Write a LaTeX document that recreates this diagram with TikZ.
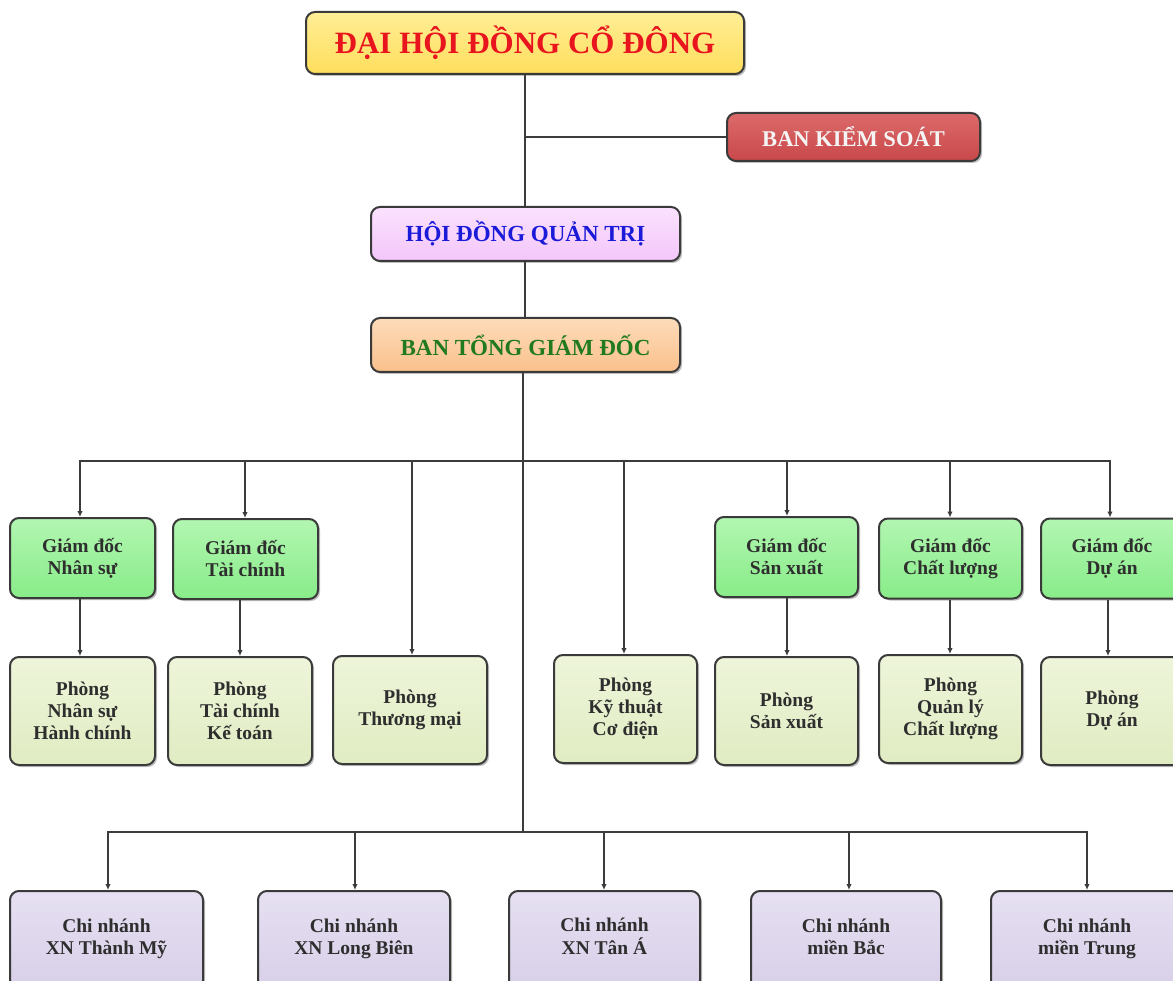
\documentclass[tikz,border=0pt]{standalone}
\usepackage{fontspec}
\setmainfont{Liberation Serif}
\usetikzlibrary{arrows.meta,shadows}
\definecolor{edgec}{HTML}{3A3A3A}
\definecolor{linec}{HTML}{3C3C3C}
\definecolor{yel}{HTML}{FFDE5C}
\definecolor{yelT}{HTML}{FFEE96}
\definecolor{redbox}{HTML}{C9484A}
\definecolor{redboxT}{HTML}{DC6A6A}
\definecolor{pinkbox}{HTML}{F3C6FA}
\definecolor{pinkboxT}{HTML}{FBE2FE}
\definecolor{orbox}{HTML}{FAC08C}
\definecolor{orboxT}{HTML}{FDDCBA}
\definecolor{gdbox}{HTML}{88EC88}
\definecolor{gdboxT}{HTML}{B2F6B2}
\definecolor{phbox}{HTML}{E0ECC2}
\definecolor{phboxT}{HTML}{EEF5DA}
\definecolor{cnbox}{HTML}{D6CDE7}
\definecolor{cnboxT}{HTML}{E6E0F2}
\definecolor{titred}{HTML}{E8141E}
\definecolor{titblue}{HTML}{1A1AD8}
\definecolor{titgreen}{HTML}{217A1E}
\definecolor{txtdark}{HTML}{2E2E2E}
\newcommand\twol[2]{\raisebox{2pt}[0pt][0pt]{\begin{tabular}{@{}c@{}}#1\\#2\end{tabular}}}
\tikzset{
  basebox/.style={draw=edgec, line width=2pt, rounded corners=9pt, inner sep=0pt,
    align=center, drop shadow={shadow xshift=2pt, shadow yshift=-2pt, opacity=0.25, fill=black}},
  topbox/.style={basebox, top color=yelT, bottom color=yel, minimum width=438pt, minimum height=62pt,
    font=\fontsize{31}{36}\selectfont\bfseries, text=titred},
  bksbox/.style={basebox, top color=redboxT, bottom color=redbox, minimum width=253pt, minimum height=48pt,
    font=\fontsize{22.5}{26}\selectfont\bfseries, text=white!92!gray},
  hdbox/.style={basebox, top color=pinkboxT, bottom color=pinkbox, minimum width=309pt, minimum height=54pt,
    font=\fontsize{23}{27}\selectfont\bfseries, text=titblue},
  tgbox/.style={basebox, top color=orboxT, bottom color=orbox, minimum width=309pt, minimum height=54pt,
    font=\fontsize{23}{27}\selectfont\bfseries, text=titgreen},
  gdnode/.style={basebox, top color=gdboxT, bottom color=gdbox, minimum width=144pt, minimum height=80pt,
    font=\fontsize{19.5}{22}\selectfont\bfseries, text=txtdark},
  phnode/.style={basebox, top color=phboxT, bottom color=phbox, minimum width=144pt, minimum height=108pt,
    font=\fontsize{19.5}{22}\selectfont\bfseries, text=txtdark},
  cnnode/.style={basebox, top color=cnboxT, bottom color=cnbox, minimum width=192pt, minimum height=110pt,
    font=\fontsize{19.5}{22}\selectfont\bfseries, text=txtdark},
  conn/.style={draw=linec, line width=2pt},
  arr/.style={conn, -{Latex[length=6pt,width=5.5pt]}}
}
\begin{document}
\begin{tikzpicture}[x=1pt,y=-1pt]
\useasboundingbox (0,0) rectangle (1173,981);
\clip (0,0) rectangle (1173,981);
\fill[white] (0,0) rectangle (1173,981);

% top level
\node[topbox] (dhd) at (525,43) {ĐẠI HỘI ĐỒNG CỔ ĐÔNG};
\node[bksbox] (bks) at (853.5,137) {BAN KIỂM SOÁT};
\node[hdbox] (hdqt) at (525.5,234) {HỘI ĐỒNG QUẢN TRỊ};
\node[tgbox] (btgd) at (525.5,345) {BAN TỔNG GIÁM ĐỐC};

% directors
\node[gdnode, minimum width=145pt] (gd1) at (82.5,558) {Giám đốc\\Nhân sự};
\node[gdnode, minimum width=145pt] (gd2) at (245.5,559) {Giám đốc\\Tài chính};
\node[gdnode, minimum width=143pt] (gd3) at (786.5,557) {Giám đốc\\Sản xuất};
\node[gdnode, minimum width=143pt] (gd4) at (950.5,558.5) {Giám đốc\\Chất lượng};
\node[gdnode, minimum width=142pt] (gd5) at (1112,558.5) {Giám đốc\\Dự án};

% departments
\node[phnode, minimum width=145pt] (p1) at (82.5,711) {Phòng\\Nhân sự\\Hành chính};
\node[phnode, minimum width=144pt] (p2) at (240,711) {Phòng\\Tài chính\\Kế toán};
\node[phnode, minimum width=154pt] (p3) at (410,710) {Phòng\\Thương mại};
\node[phnode, minimum width=143pt] (p4) at (625.5,709) {Phòng\\Kỹ thuật\\Cơ điện};
\node[phnode, minimum width=143pt] (p5) at (786.5,711) {Phòng\\Sản xuất};
\node[phnode, minimum width=143pt] (p6) at (950.5,709) {Phòng\\Quản lý\\Chất lượng};
\node[phnode, minimum width=142pt] (p7) at (1112,711) {Phòng\\Dự án};

% branches
\node[cnnode, minimum width=193pt] (c1) at (106.5,946) {\twol{Chi nhánh}{XN Thành Mỹ}};
\node[cnnode, minimum width=192pt] (c2) at (354,946) {\twol{Chi nhánh}{XN Long Biên}};
\node[cnnode, minimum width=191pt] (c3) at (604.5,946) {\twol{Chi nhánh}{XN Tân Á}};
\node[cnnode, minimum width=190pt] (c4) at (846,946) {\twol{Chi nhánh}{miền Bắc}};
\node[cnnode, minimum width=192pt] (c5) at (1087,946) {\twol{Chi nhánh}{miền Trung}};

% connector guide coordinates (integer x for crisp lines)
\coordinate (jb) at (525,137);
\coordinate (b1) at (523,461);
\coordinate (b2) at (523,832);
\coordinate (x80) at (80,0);
\coordinate (x245) at (245,0);
\coordinate (x240) at (240,0);
\coordinate (x412) at (412,0);
\coordinate (x624) at (624,0);
\coordinate (x787) at (787,0);
\coordinate (x950) at (950,0);
\coordinate (x1110) at (1110,0);
\coordinate (x1108) at (1108,0);
\coordinate (x108) at (108,0);
\coordinate (x355) at (355,0);
\coordinate (x604) at (604,0);
\coordinate (x849) at (849,0);
\coordinate (x1087) at (1087,0);

\draw[conn] (jb |- dhd.south) -- (jb |- hdqt.north);
\draw[conn] (jb) -- (bks.west);
\draw[conn] (jb |- hdqt.south) -- (jb |- btgd.north);
\draw[conn] (b1 |- btgd.south) -- (b2);

\draw[arr] (b1) -| (x80 |- gd1.north);
\draw[arr] (b1) -| (x245 |- gd2.north);
\draw[arr] (b1) -| (x412 |- p3.north);
\draw[arr] (b1) -| (x624 |- p4.north);
\draw[arr] (b1) -| (x787 |- gd3.north);
\draw[arr] (b1) -| (x950 |- gd4.north);
\draw[arr] (b1) -| (x1110 |- gd5.north);

\draw[arr] (x80 |- gd1.south) -- (x80 |- p1.north);
\draw[arr] (x240 |- gd2.south) -- (x240 |- p2.north);
\draw[arr] (x787 |- gd3.south) -- (x787 |- p5.north);
\draw[arr] (x950 |- gd4.south) -- (x950 |- p6.north);
\draw[arr] (x1108 |- gd5.south) -- (x1108 |- p7.north);

\draw[arr] (b2) -| (x108 |- c1.north);
\draw[arr] (b2) -| (x355 |- c2.north);
\draw[arr] (b2) -| (x604 |- c3.north);
\draw[arr] (b2) -| (x849 |- c4.north);
\draw[arr] (b2) -| (x1087 |- c5.north);
\end{tikzpicture}
\end{document}
